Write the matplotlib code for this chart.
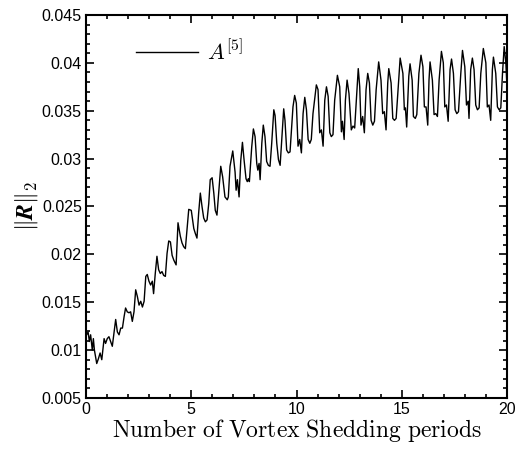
import matplotlib

matplotlib.use("Agg")
import matplotlib.pyplot as plt  # noqa: E402
from matplotlib.ticker import MultipleLocator  # noqa: E402

plt.rcParams["mathtext.fontset"] = "cm"

# Residual history (time in shedding periods, ||R||_2)
periods = [
    0.00, 0.03, 0.10, 0.16, 0.22, 0.30, 0.35, 0.40, 0.51, 0.59, 0.67, 0.75,
    0.86, 0.93, 1.01, 1.09, 1.17, 1.25, 1.33, 1.41, 1.49, 1.57, 1.65, 1.73,
    1.81, 1.88, 1.96, 2.04, 2.12, 2.20, 2.28, 2.36, 2.44, 2.52, 2.60, 2.68,
    2.76, 2.84, 2.91, 2.99, 3.07, 3.15, 3.21, 3.29, 3.37, 3.45, 3.53, 3.61,
    3.69, 3.77, 3.85, 3.93, 4.01, 4.09, 4.17, 4.28, 4.37, 4.48, 4.56, 4.64,
    4.72, 4.80, 4.88, 5.00, 5.12, 5.19, 5.27, 5.35, 5.43, 5.51, 5.59, 5.67,
    5.75, 5.83, 5.90, 5.99, 6.07, 6.14, 6.22, 6.30, 6.40, 6.49, 6.60, 6.71,
    6.76, 6.84, 6.97, 7.08, 7.13, 7.19, 7.27, 7.35, 7.43, 7.51, 7.60, 7.66,
    7.71, 7.76, 7.87, 7.95, 8.03, 8.11, 8.16, 8.22, 8.27, 8.35, 8.42, 8.50,
    8.58, 8.66, 8.74, 8.82, 8.92, 8.98, 9.06, 9.14, 9.22, 9.30, 9.39, 9.45,
    9.53, 9.61, 9.69, 9.77, 9.83, 9.91, 9.99, 10.07, 10.15, 10.23, 10.31, 10.39,
    10.47, 10.55, 10.63, 10.70, 10.78, 10.94, 11.02, 11.10, 11.18, 11.26, 11.34, 11.42,
    11.50, 11.58, 11.65, 11.73, 11.81, 11.94, 12.05, 12.13, 12.18, 12.26, 12.32, 12.40,
    12.49, 12.60, 12.68, 12.76, 12.84, 12.93, 13.00, 13.06, 13.14, 13.22, 13.30, 13.38,
    13.46, 13.54, 13.62, 13.70, 13.78, 13.90, 14.01, 14.09, 14.17, 14.25, 14.33, 14.38,
    14.49, 14.57, 14.65, 14.73, 14.81, 14.92, 15.05, 15.12, 15.17, 15.23, 15.33, 15.39,
    15.49, 15.55, 15.64, 15.71, 15.81, 15.91, 16.00, 16.07, 16.15, 16.23, 16.29, 16.34,
    16.45, 16.53, 16.61, 16.69, 16.77, 16.88, 16.97, 17.04, 17.12, 17.20, 17.29, 17.36,
    17.45, 17.53, 17.61, 17.69, 17.80, 17.88, 17.99, 18.07, 18.15, 18.19, 18.27, 18.35,
    18.43, 18.51, 18.59, 18.67, 18.75, 18.87, 18.99, 19.06, 19.14, 19.22, 19.30, 19.35,
    19.46, 19.54, 19.62, 19.70, 19.78, 19.86, 19.94, 20.00,
]
residual = [
    0.0118, 0.0116, 0.0119, 0.0109, 0.0116, 0.0100, 0.0112, 0.0100, 0.0086, 0.0091, 0.0097, 0.0090,
    0.0112, 0.0107, 0.0112, 0.0114, 0.0109, 0.0104, 0.0118, 0.0132, 0.0119, 0.0116, 0.0123, 0.0123,
    0.0135, 0.0144, 0.0140, 0.0139, 0.0140, 0.0130, 0.0140, 0.0163, 0.0156, 0.0147, 0.0151, 0.0145,
    0.0151, 0.0177, 0.0179, 0.0172, 0.0168, 0.0172, 0.0159, 0.0180, 0.0198, 0.0184, 0.0180, 0.0182,
    0.0178, 0.0177, 0.0201, 0.0214, 0.0213, 0.0199, 0.0194, 0.0189, 0.0233, 0.0219, 0.0212, 0.0208,
    0.0206, 0.0226, 0.0247, 0.0246, 0.0227, 0.0222, 0.0217, 0.0243, 0.0264, 0.0250, 0.0238, 0.0234,
    0.0236, 0.0253, 0.0278, 0.0280, 0.0264, 0.0246, 0.0241, 0.0264, 0.0292, 0.0281, 0.0260, 0.0257,
    0.0260, 0.0292, 0.0308, 0.0286, 0.0267, 0.0278, 0.0260, 0.0298, 0.0317, 0.0298, 0.0279, 0.0276,
    0.0279, 0.0276, 0.0312, 0.0331, 0.0323, 0.0295, 0.0288, 0.0295, 0.0278, 0.0316, 0.0335, 0.0323,
    0.0297, 0.0293, 0.0292, 0.0316, 0.0351, 0.0345, 0.0316, 0.0299, 0.0293, 0.0320, 0.0352, 0.0340,
    0.0309, 0.0306, 0.0307, 0.0334, 0.0354, 0.0366, 0.0358, 0.0313, 0.0320, 0.0306, 0.0347, 0.0364,
    0.0351, 0.0320, 0.0316, 0.0320, 0.0347, 0.0377, 0.0372, 0.0327, 0.0330, 0.0313, 0.0361, 0.0375,
    0.0365, 0.0327, 0.0323, 0.0325, 0.0361, 0.0387, 0.0375, 0.0328, 0.0339, 0.0320, 0.0361, 0.0382,
    0.0368, 0.0330, 0.0334, 0.0332, 0.0361, 0.0394, 0.0375, 0.0335, 0.0344, 0.0327, 0.0372, 0.0389,
    0.0379, 0.0340, 0.0335, 0.0339, 0.0372, 0.0401, 0.0382, 0.0347, 0.0349, 0.0330, 0.0379, 0.0394,
    0.0379, 0.0342, 0.0340, 0.0342, 0.0368, 0.0405, 0.0389, 0.0351, 0.0353, 0.0333, 0.0386, 0.0399,
    0.0382, 0.0344, 0.0342, 0.0346, 0.0389, 0.0408, 0.0396, 0.0354, 0.0354, 0.0335, 0.0382, 0.0401,
    0.0382, 0.0346, 0.0347, 0.0344, 0.0382, 0.0412, 0.0400, 0.0354, 0.0356, 0.0339, 0.0393, 0.0404,
    0.0389, 0.0351, 0.0347, 0.0349, 0.0389, 0.0413, 0.0396, 0.0356, 0.0360, 0.0342, 0.0393, 0.0405,
    0.0393, 0.0356, 0.0351, 0.0353, 0.0389, 0.0415, 0.0400, 0.0354, 0.0356, 0.0340, 0.0393, 0.0406,
    0.0389, 0.0354, 0.0351, 0.0353, 0.0389, 0.0417, 0.0400, 0.0372,
]
series_label = r"$A^{[5]}$"

x_ticks = [0, 5, 10, 15, 20]
y_ticks = [0.005, 0.01, 0.015, 0.02, 0.025, 0.03, 0.035, 0.04, 0.045]
y_tick_labels = ["0.005", "0.01", "0.015", "0.02", "0.025", "0.03", "0.035", "0.04", "0.045"]

fig = plt.figure(figsize=(5.18, 4.49), dpi=100)
ax = fig.add_axes([0.166, 0.1136, 0.813, 0.853])

ax.plot(periods, residual, color="black", linewidth=1.0, label=series_label)

ax.set_xlim(0, 20)
ax.set_ylim(0.005, 0.045)
ax.set_xticks(x_ticks)
ax.set_xticklabels([str(v) for v in x_ticks])
ax.set_yticks(y_ticks)
ax.set_yticklabels(y_tick_labels)
ax.xaxis.set_minor_locator(MultipleLocator(1))
ax.yaxis.set_minor_locator(MultipleLocator(0.001))

for side in ax.spines.values():
    side.set_linewidth(1.5)
ax.tick_params(which="both", direction="in", top=True, right=True, width=1.2,
               labelsize=11.5, pad=3)
ax.tick_params(which="major", length=6)
ax.tick_params(which="minor", length=3)
for lbl in ax.get_xticklabels() + ax.get_yticklabels():
    lbl.set_family("Liberation Sans")

ax.set_xlabel(r"$\mathrm{Number\ of\ Vortex\ Shedding\ periods}$", fontsize=17, labelpad=0)
ax.set_ylabel(r"$\|\boldsymbol{R}\|_2$", fontsize=17, labelpad=1)

ax.legend(loc="upper left", bbox_to_anchor=(0.097, 0.96), frameon=False,
          fontsize=16, handlelength=2.8, handletextpad=0.4, borderaxespad=0)

fig.savefig("out.png", dpi=100)
